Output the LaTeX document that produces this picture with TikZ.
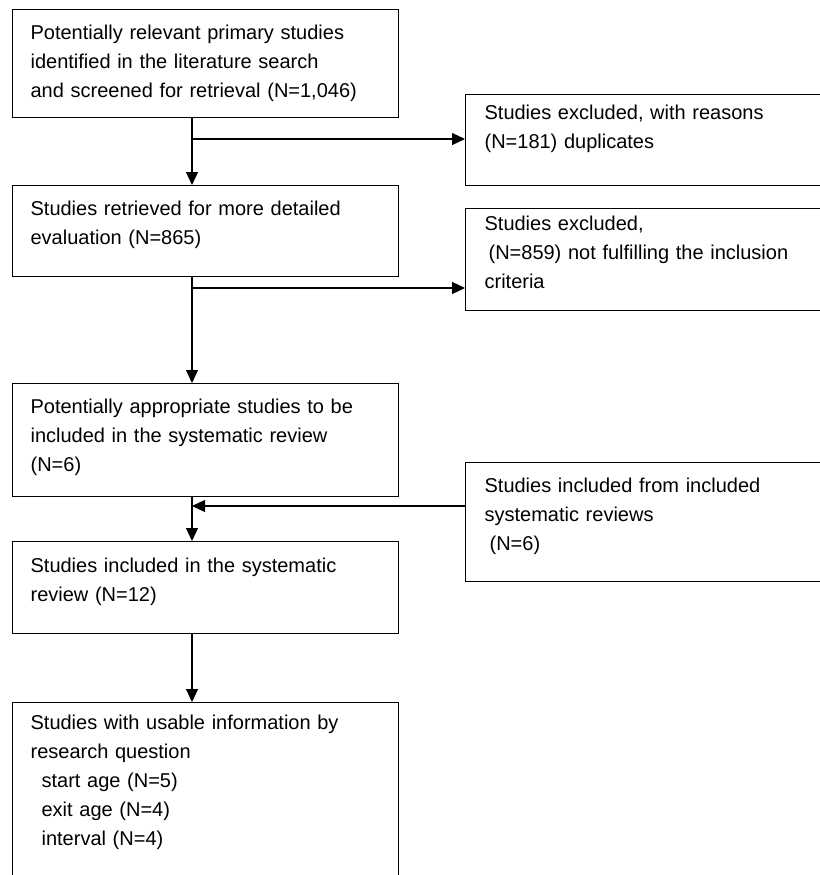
\documentclass[tikz,border=0pt]{standalone}
\usepackage{fontspec}
\setmainfont{Liberation Sans}
\usetikzlibrary{arrows.meta}

\begin{document}
\begin{tikzpicture}[x=1pt, y=-1pt,
    stage/.style={draw, line width=1.2pt, anchor=north west, align=left, text width=350pt, inner xsep=18pt, inner ysep=0pt, font=\fontsize{20}{29}\selectfont},
    side/.style={stage, text width=327pt, inner xsep=19pt},
    arrow/.style={-{Triangle[width=12pt, length=13pt]}, line width=1.2pt}
]
\useasboundingbox (0,0) rectangle (819,875);

% main column
\node[stage, text height=29.5pt, text depth=78.5pt] (ident) at (12,9) {Potentially relevant primary studies\\identified in the literature search\\and screened for retrieval (N=1,046)};
\node[stage, text height=30pt, text depth=61pt] (retr) at (12,185) {Studies retrieved for more detailed\\evaluation (N=865)};
\node[stage, text height=30pt, text depth=83pt] (appr) at (12,383) {Potentially appropriate studies to be\\included in the systematic review\\(N=6)};
\node[stage, text height=31pt, text depth=61pt] (incl) at (12,541) {Studies included in the systematic\\review (N=12)};
\node[stage, text height=27pt, text depth=200pt] (usable) at (12,702) {Studies with usable information by\\research question\\\hspace*{11pt}start age (N=5)\\\hspace*{11pt}exit age (N=4)\\\hspace*{11pt}interval (N=4)};

% side boxes
\node[side, text height=24.5pt, text depth=66.5pt] (excl1) at (465,94) {Studies excluded, with reasons\\(N=181) duplicates};
\node[side, text height=22pt, text depth=80pt] (excl2) at (465,208) {Studies excluded,\\\hspace*{4pt}(N=859) not fulfilling the inclusion\\criteria};
\node[side, text height=30pt, text depth=89pt] (revs) at (465,462) {Studies included from included\\systematic reviews\\\hspace*{5pt}(N=6)};

% connectors
\coordinate (spine) at (192,0);
\coordinate (fork1) at (192,139);
\coordinate (fork2) at (192,288);
\coordinate (merge) at (192,506);
\draw[arrow] (ident.south -| spine) -- (retr.north -| spine);
\draw[arrow] (retr.south -| spine) -- (appr.north -| spine);
\draw[arrow] (appr.south -| spine) -- (incl.north -| spine);
\draw[arrow] (incl.south -| spine) -- (usable.north -| spine);
\draw[arrow] (fork1) -- (fork1 -| excl1.west);
\draw[arrow] (fork2) -- (fork2 -| excl2.west);
\draw[arrow] (merge -| revs.west) -- (merge);
\end{tikzpicture}
\end{document}
